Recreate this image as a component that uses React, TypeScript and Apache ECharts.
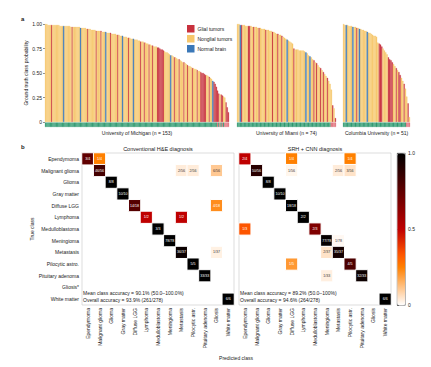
import React, { useEffect, useRef } from 'react';
import * as echarts from 'echarts';

const FONT = '"Liberation Sans", Arial, Helvetica, sans-serif';

// ---------- Panel a data ----------
const classTypes = ['Glial tumors', 'Nonglial tumors', 'Normal brain'];
const classColors = ['#c8313d', '#f7c76c', '#3b78b8'];
const correctColor = '#2e9a70';
const wrongColor = '#e0707a';

const michiganValues = [
  1.00, 1.00, 0.99, 0.99, 0.99, 0.99, 0.99, 0.99, 0.99, 0.99,
  0.99, 0.99, 0.98, 0.98, 0.98, 0.98, 0.98, 0.98, 0.98, 0.98,
  0.98, 0.97, 0.97, 0.97, 0.97, 0.97, 0.97, 0.97, 0.97, 0.96,
  0.96, 0.96, 0.96, 0.96, 0.95, 0.95, 0.95, 0.95, 0.94, 0.94,
  0.94, 0.94, 0.93, 0.93, 0.93, 0.93, 0.93, 0.92, 0.92, 0.92,
  0.92, 0.91, 0.91, 0.91, 0.91, 0.90, 0.90, 0.90, 0.90, 0.89,
  0.89, 0.89, 0.88, 0.88, 0.88, 0.87, 0.87, 0.87, 0.86, 0.86,
  0.86, 0.85, 0.85, 0.85, 0.84, 0.84, 0.84, 0.83, 0.83, 0.82,
  0.82, 0.82, 0.81, 0.81, 0.80, 0.80, 0.79, 0.79, 0.78, 0.78,
  0.77, 0.77, 0.77, 0.76, 0.76, 0.75, 0.74, 0.74, 0.73, 0.72,
  0.71, 0.71, 0.70, 0.69, 0.68, 0.68, 0.67, 0.66, 0.66, 0.65,
  0.64, 0.64, 0.63, 0.62, 0.61, 0.61, 0.60, 0.59, 0.58, 0.57,
  0.57, 0.56, 0.55, 0.55, 0.54, 0.54, 0.53, 0.52, 0.52, 0.51,
  0.50, 0.50, 0.49, 0.48, 0.48, 0.47, 0.46, 0.45, 0.44, 0.42,
  0.41, 0.39, 0.36, 0.32, 0.29, 0.28, 0.28, 0.27, 0.26, 0.25,
  0.20, 0.15, 0.10,
];
const michiganGlial = [5, 22, 35, 42, 46, 54, 60, 69, 79, 82, 86, 89, 93, 94, 95, 96, 97, 98, 107, 111, 115, 118, 122, 126, 129, 130, 131, 132, 133, 136, 140, 141, 142, 143, 144, 146, 147, 150, 151, 152];
const michiganNormal = [15, 29, 50, 64, 73, 104, 139];
const michiganWrong = [143, 145, 147, 149, 150, 151, 152];

const miamiValues = [
  1.00, 1.00, 0.99, 0.99, 0.99, 0.99, 0.98, 0.98, 0.98, 0.98,
  0.98, 0.97, 0.97, 0.97, 0.97, 0.96, 0.96, 0.96, 0.95, 0.95,
  0.95, 0.94, 0.94, 0.94, 0.93, 0.93, 0.92, 0.92, 0.91, 0.90,
  0.90, 0.89, 0.89, 0.88, 0.87, 0.86, 0.85, 0.84, 0.83, 0.82,
  0.81, 0.80, 0.75, 0.74, 0.74, 0.74, 0.73, 0.73, 0.73, 0.73,
  0.72, 0.71, 0.70, 0.68, 0.67, 0.66, 0.64, 0.63, 0.61, 0.60,
  0.58, 0.56, 0.55, 0.53, 0.51, 0.49, 0.47, 0.45, 0.42, 0.39,
  0.33, 0.17, 0.14, 0.04,
];
const miamiGlial = [3, 8, 9, 12, 16, 21, 26, 30, 33, 42, 57, 59, 62, 64, 67, 71, 73];
const miamiNormal = [2, 37, 51, 54];
const miamiWrong = [70, 71, 72, 73];

const columbiaValues = [
  1.00, 0.99, 0.99, 0.99, 0.98, 0.98, 0.98, 0.97, 0.97, 0.97,
  0.96, 0.96, 0.95, 0.95, 0.94, 0.94, 0.93, 0.93, 0.92, 0.91,
  0.91, 0.90, 0.89, 0.88, 0.88, 0.87, 0.81, 0.80, 0.79, 0.77,
  0.75, 0.73, 0.71, 0.69, 0.66, 0.64, 0.63, 0.61, 0.59, 0.57,
  0.55, 0.53, 0.51, 0.48, 0.45, 0.42, 0.39, 0.34, 0.26, 0.19,
  0.05,
];
const columbiaGlial = [10, 27, 28, 29, 34, 35, 36, 37, 40, 42, 43, 46, 49];
const columbiaNormal = [2, 7, 12, 18];
const columbiaWrong = [48, 49, 50];

const yTicks = [0, 0.25, 0.5, 0.75, 1];

// ---------- Panel b data ----------
const trueClasses = ['Ependymoma', 'Malignant glioma', 'Glioma', 'Gray matter', 'Diffuse LGG', 'Lymphoma', 'Medulloblastoma', 'Meningioma', 'Metastasis', 'Pilocytic astro.', 'Pituitary adenoma', 'Gliosis*', 'White matter'];
const predictedClasses = ['Ependymoma', 'Malignant glioma', 'Glioma', 'Gray matter', 'Diffuse LGG', 'Lymphoma', 'Medulloblastoma', 'Meningioma', 'Metastasis', 'Pilocytic astr.', 'Pituitary adenoma', 'Gliosis', 'White matter'];

// [true class index, predicted class index, count]
const conventionalCounts = [
  [0, 0, 3], [0, 1, 1],
  [1, 1, 46], [1, 8, 2], [1, 9, 2], [1, 11, 6],
  [2, 2, 8],
  [3, 3, 10],
  [4, 4, 14], [4, 11, 4],
  [5, 5, 1], [5, 8, 1],
  [6, 6, 3],
  [7, 7, 78],
  [8, 8, 36], [8, 11, 1],
  [9, 9, 5],
  [10, 10, 33],
  [12, 12, 6],
];
const srhCounts = [
  [0, 0, 2], [0, 4, 1], [0, 9, 1],
  [1, 1, 50], [1, 4, 1], [1, 8, 2], [1, 9, 3],
  [2, 2, 8],
  [3, 3, 10],
  [4, 4, 18],
  [5, 5, 2],
  [6, 0, 1], [6, 6, 2],
  [7, 7, 77], [7, 8, 1],
  [8, 7, 2], [8, 8, 35],
  [9, 4, 1], [9, 9, 4],
  [10, 7, 1], [10, 10, 32],
  [12, 12, 6],
];
const classTotals = [4, 56, 8, 10, 18, 2, 3, 78, 37, 5, 33, 0, 6];
const colorbarTicks = [0, 0.5, 1];

const conventionalSummary = ['Mean class accuracy = 90.1% (50.0–100.0%)', 'Overall accuracy = 93.9% (261/278)'];
const srhSummary = ['Mean class accuracy = 89.2% (50.0–100%)', 'Overall accuracy = 94.6% (264/278)'];

// gist_heat reversed colour map
function heatColor(v: number): string {
  const x = 1 - v;
  const cl = (t: number) => Math.max(0, Math.min(1, t));
  const r = cl(1.5 * x), g = cl(2 * x - 1), b = cl(4 * x - 3);
  return `rgb(${Math.round(r * 255)},${Math.round(g * 255)},${Math.round(b * 255)})`;
}
const heatStops = Array.from({ length: 41 }, (_, k) => heatColor(k / 40));

export default function App() {
  const ref = useRef<HTMLDivElement>(null);
  useEffect(() => {
    if (!ref.current) return;
    const chart = echarts.init(ref.current, null, { renderer: 'svg' });

    const sites = [
      { name: 'University of Michigan', values: michiganValues, glial: michiganGlial, normal: michiganNormal, wrong: michiganWrong, left: 45, width: 184 },
      { name: 'University of Miami', values: miamiValues, glial: miamiGlial, normal: miamiNormal, wrong: miamiWrong, left: 237, width: 99 },
      { name: 'Columbia University', values: columbiaValues, glial: columbiaGlial, normal: columbiaNormal, wrong: columbiaWrong, left: 343, width: 67 },
    ];

    const grids: any[] = [];
    const xAxes: any[] = [];
    const yAxes: any[] = [];
    const series: any[] = [];
    const txt = { fontFamily: FONT, color: '#222' };

    sites.forEach((s, k) => {
      grids.push({ left: s.left, top: 24, width: s.width, height: 98 });
      xAxes.push({ type: 'category', gridIndex: k, data: s.values.map((_, i) => i), show: false });
      yAxes.push({
        type: 'value', gridIndex: k, min: 0, max: 1, interval: 0.25, show: k === 0,
        splitLine: { show: false }, axisLine: { show: false },
        axisTick: { show: true, length: 2, lineStyle: { color: '#444', width: 0.6 } },
        axisLabel: { fontSize: 5, margin: 3, ...txt, formatter: (v: number) => (yTicks.includes(v) ? (v === 0 ? '0' : v.toFixed(2)) : '') },
        name: 'Ground truth class probability', nameLocation: 'middle', nameGap: 16,
        nameTextStyle: { fontSize: 5, ...txt },
      });
    });
    sites.forEach((s, k) => {
      grids.push({ left: s.left, top: 122.5, width: s.width, height: 4.5 });
      xAxes.push({
        type: 'category', gridIndex: 3 + k, data: s.values.map((_, i) => i),
        axisLine: { show: false }, axisTick: { show: false }, axisLabel: { show: false },
        name: `${s.name} (n = ${s.values.length})`, nameLocation: 'middle', nameGap: 3,
        nameTextStyle: { fontSize: 5, ...txt, verticalAlign: 'top' },
      });
      yAxes.push({ type: 'value', gridIndex: 3 + k, min: 0, max: 1, show: false });
    });

    sites.forEach((s, k) => {
      const classOf = (i: number) => (s.glial.includes(i) ? 0 : s.normal.includes(i) ? 2 : 1);
      classTypes.forEach((cname, c) => {
        series.push({
          type: 'bar', name: cname, xAxisIndex: k, yAxisIndex: k, stack: 'site' + k,
          barCategoryGap: '0%',
          itemStyle: { color: classColors[c], borderColor: classColors[c], borderWidth: 0.35 },
          emphasis: { disabled: true },
          data: s.values.map((v, i) => (classOf(i) === c ? v : '-')),
        });
      });
    });
    sites.forEach((s, k) => {
      series.push({
        type: 'bar', name: 'classification', xAxisIndex: 3 + k, yAxisIndex: 3 + k,
        barCategoryGap: '0%', emphasis: { disabled: true },
        data: s.values.map((_, i) => {
          const col = s.wrong.includes(i) ? wrongColor : correctColor;
          return { value: 1, itemStyle: { color: col, borderColor: col, borderWidth: 0.3 } };
        }),
      });
    });

    // Heatmaps
    const heatGrids = [
      { left: 82, counts: conventionalCounts },
      { left: 239, counts: srhCounts },
    ];
    const heatSeriesIdx: number[] = [];
    heatGrids.forEach((h, k) => {
      const gi = 6 + k;
      grids.push({ left: h.left, top: 153, width: 152, height: 152, show: true, borderColor: '#c8c8c8', borderWidth: 0.6, backgroundColor: 'transparent' });
      xAxes.push({
        type: 'category', gridIndex: gi, data: predictedClasses,
        axisLine: { show: false }, axisTick: { show: false }, splitLine: { show: false },
        axisLabel: { rotate: 90, fontSize: 5, margin: 3, interval: 0, ...txt },
      });
      yAxes.push({
        type: 'category', gridIndex: gi, data: trueClasses, inverse: true,
        axisLine: { show: false }, axisTick: { show: false }, splitLine: { show: false },
        axisLabel: { show: k === 0, fontSize: 5, margin: 3, interval: 0, ...txt },
        name: k === 0 ? 'True class' : '', nameLocation: 'middle', nameGap: 46,
        nameTextStyle: { fontSize: 5, ...txt },
      });
      heatSeriesIdx.push(series.length);
      series.push({
        type: 'heatmap', xAxisIndex: gi, yAxisIndex: gi,
        emphasis: { disabled: true },
        itemStyle: { borderColor: '#ffffff', borderWidth: 1 },
        label: { show: true, fontSize: 3.6, fontFamily: FONT, formatter: (p: any) => p.data.frac },
        data: h.counts.map(([t, p, n]) => {
          const v = n / classTotals[t];
          return { value: [p, t, v], frac: `${n}/${classTotals[t]}`, label: { color: v >= 0.2 ? '#ffffff' : '#333333' } };
        }),
      });
    });

    // colour bar axis
    grids.push({ left: 397, top: 153, width: 8, height: 152 });
    xAxes.push({ type: 'value', gridIndex: 8, min: 0, max: 1, show: false });
    yAxes.push({
      type: 'value', gridIndex: 8, min: 0, max: 1, interval: 0.5, position: 'right',
      splitLine: { show: false }, axisLine: { show: false },
      axisTick: { show: true, length: 2, lineStyle: { color: '#444', width: 0.6 } },
      axisLabel: { fontSize: 5, margin: 3, ...txt, formatter: (v: number) => (colorbarTicks.includes(v) ? (v === 0 ? '0' : v.toFixed(1)) : '') },
    });

    const gtext = (x: number, y: number, text: string, extra: any = {}) => ({
      type: 'text', x, y, silent: true,
      style: { text, fontSize: 5, fontFamily: FONT, fill: '#222', ...extra },
    });

    chart.setOption({
      animation: false,
      textStyle: { fontFamily: FONT },
      grid: grids,
      xAxis: xAxes,
      yAxis: yAxes,
      legend: {
        data: classTypes, left: 187, top: 25, orient: 'vertical', itemWidth: 5.5, itemHeight: 5.5,
        itemGap: 2.5, padding: 0, icon: 'rect', selectedMode: false,
        textStyle: { fontSize: 5, fontFamily: FONT, color: '#222', padding: [0, 0, 0, -1] },
      },
      visualMap: {
        type: 'continuous', min: 0, max: 1, seriesIndex: heatSeriesIdx, calculable: false,
        inRange: { color: heatStops }, left: 397, top: 153, itemWidth: 8, itemHeight: 152,
        padding: 0, orient: 'vertical', borderColor: '#333', borderWidth: 0.5, showLabel: false,
      },
      series,
      graphic: [
        gtext(21, 16, 'a', { fontWeight: 'bold', fontSize: 6 }),
        gtext(21, 144, 'b', { fontWeight: 'bold', fontSize: 6 }),
        gtext(158, 151.5, 'Conventional H&E diagnosis', { align: 'center', verticalAlign: 'bottom', fontSize: 5.5 }),
        gtext(315, 151.5, 'SRH + CNN diagnosis', { align: 'center', verticalAlign: 'bottom', fontSize: 5.5 }),
        gtext(83, 290, conventionalSummary[0]),
        gtext(83, 297.5, conventionalSummary[1]),
        gtext(240, 290, srhSummary[0]),
        gtext(240, 297.5, srhSummary[1]),
        gtext(236, 355.5, 'Predicted class', { align: 'center' }),
      ],
    });
    return () => chart.dispose();
  }, []);

  return (
    <div
      ref={ref}
      style={{ position: 'fixed', left: 0, top: 0, width: 431, height: 367, background: '#ffffff' }}
    />
  );
}
